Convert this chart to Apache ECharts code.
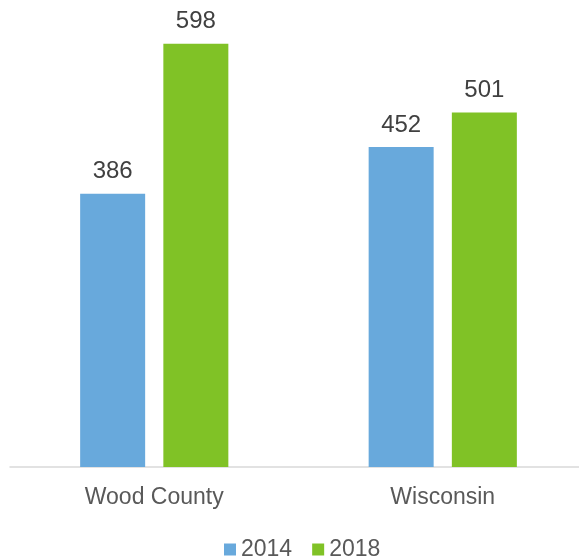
<!DOCTYPE html>
<html>
<head>
<meta charset="utf-8">
<script src="https://cdn.jsdelivr.net/npm/echarts@6/dist/echarts.min.js"></script>
<style>
  html, body { margin: 0; padding: 0; background: #fff; }
  #chart { width: 579px; height: 558px; }
</style>
</head>
<body>
<div id="chart"></div>
<script>
var categories = ['Wood County', 'Wisconsin'];
var seriesNames = ['2014', '2018'];
var values2014 = [386, 452];
var values2018 = [598, 501];
var colors = ['#68A9DC', '#80C226'];

var chart = echarts.init(document.getElementById('chart'));

var labelStyle = {
  show: true,
  position: 'top',
  distance: 10,
  fontSize: 24,
  fontFamily: 'Liberation Sans, Arial, sans-serif',
  color: '#404040'
};

var option = {
  animation: false,
  color: colors,
  grid: {
    left: 10,
    width: 577,
    top: 7,
    bottom: 91,
    outerBoundsMode: 'none'
  },
  legend: {
    data: seriesNames,
    top: 533,
    left: 219,
    icon: 'rect',
    itemWidth: 12,
    itemHeight: 12,
    itemGap: 20,
    textStyle: {
      fontSize: 23,
      fontFamily: 'Liberation Sans, Arial, sans-serif',
      color: '#595959'
    }
  },
  xAxis: {
    type: 'category',
    data: categories,
    axisLine: { lineStyle: { color: '#D9D9D9', width: 1.5 } },
    axisTick: { show: false },
    axisLabel: {
      margin: 19,
      fontSize: 23,
      fontFamily: 'Liberation Sans, Arial, sans-serif',
      color: '#595959'
    }
  },
  yAxis: {
    type: 'value',
    min: 0,
    max: 650,
    show: false,
    splitLine: { show: false }
  },
  series: [{
    name: seriesNames[0],
    type: 'bar',
    data: values2014,
    barWidth: 65,
    barGap: '28%',
    label: labelStyle
  }, {
    name: seriesNames[1],
    type: 'bar',
    data: values2018,
    barWidth: 65,
    label: labelStyle
  }]
};

chart.setOption(option);
</script>
</body>
</html>
